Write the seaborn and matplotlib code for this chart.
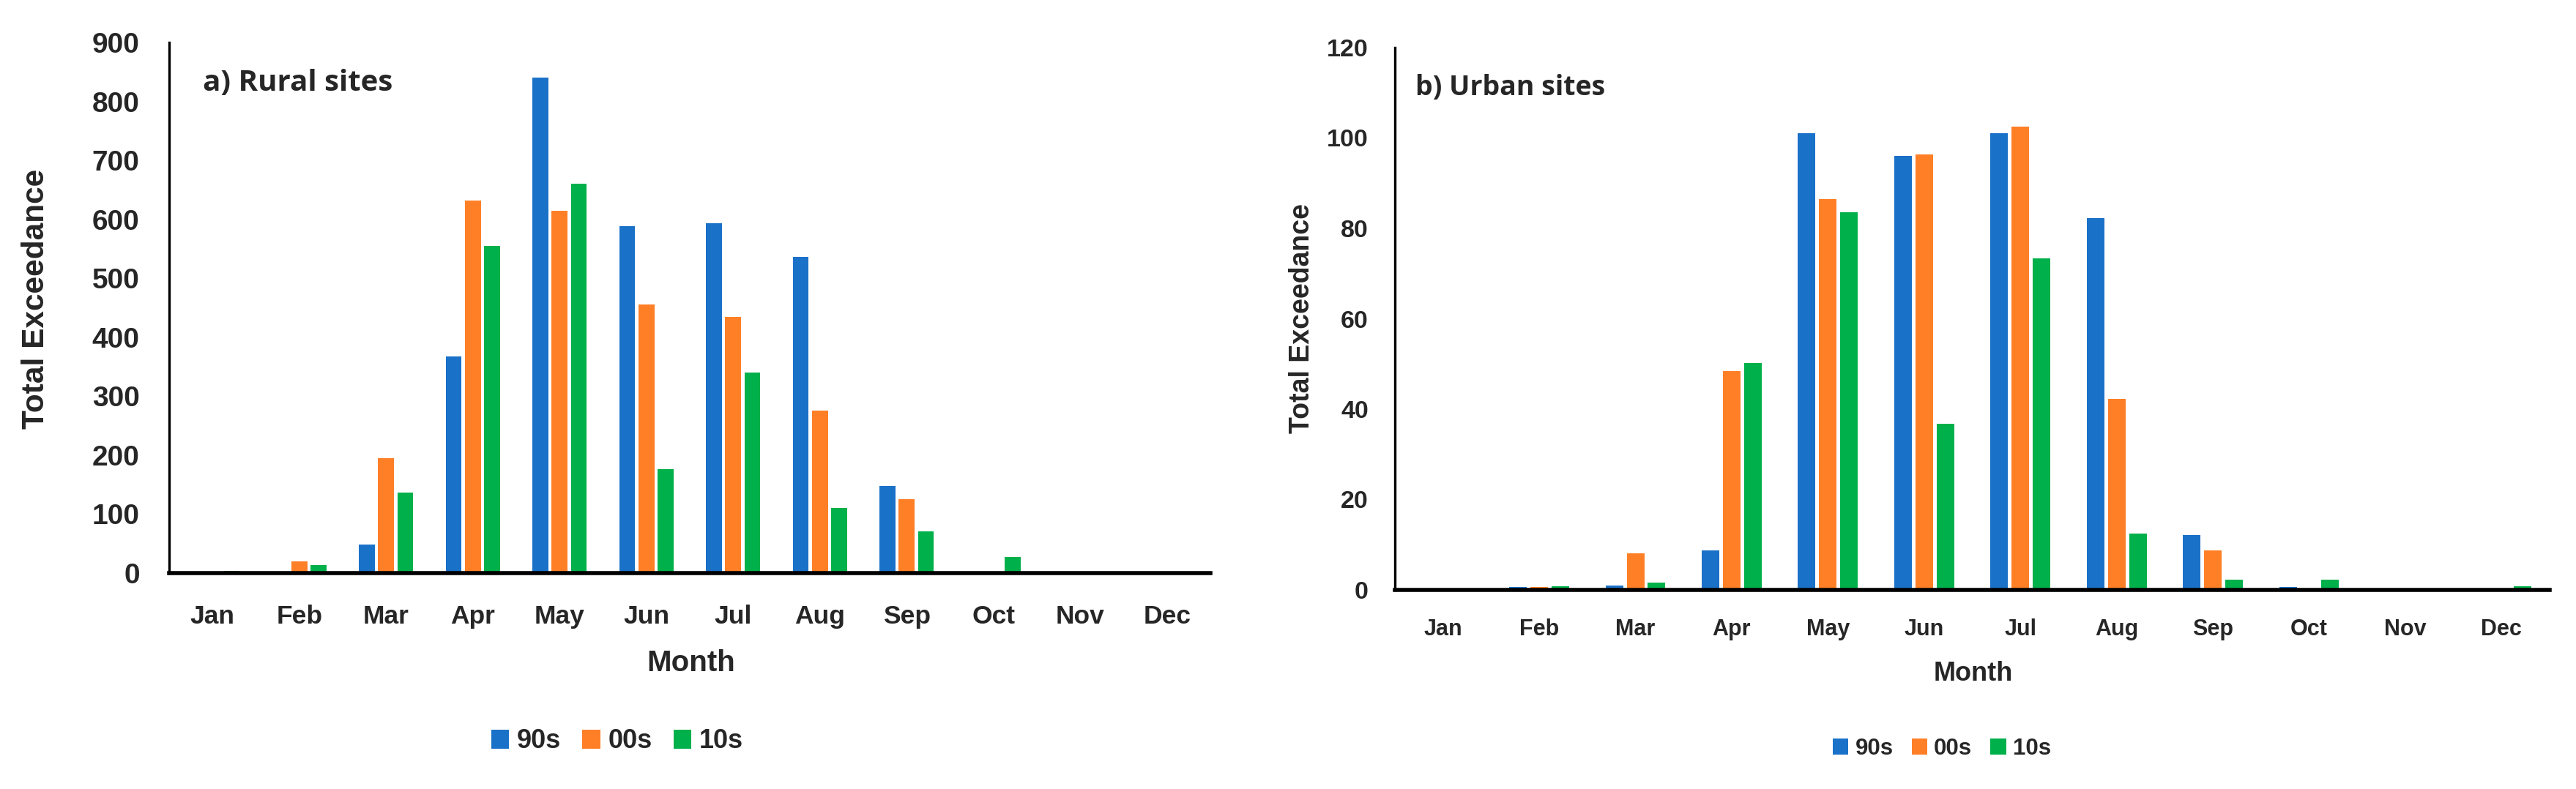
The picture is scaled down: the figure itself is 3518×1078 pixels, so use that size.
import matplotlib
matplotlib.use("Agg")
import matplotlib.pyplot as plt
import seaborn as sns
import pandas as pd

months = ["Jan", "Feb", "Mar", "Apr", "May", "Jun", "Jul", "Aug", "Sep", "Oct", "Nov", "Dec"]
decades = ["90s", "00s", "10s"]

rural_90s = [0, 0, 48, 368, 840, 588, 593, 536, 148, 0, 0, 0]
rural_00s = [0, 20, 195, 632, 615, 456, 434, 276, 125, 0, 0, 0]
rural_10s = [4, 14, 136, 555, 661, 176, 340, 110, 71, 27, 3, 3]

urban_90s = [0, 0.7, 1.0, 8.7, 101, 96, 101, 82.2, 12.2, 0.7, 0, 0]
urban_00s = [0, 0.7, 8.1, 48.4, 86.5, 96.4, 102.5, 42.2, 8.7, 0, 0, 0]
urban_10s = [0, 0.8, 1.7, 50.2, 83.6, 36.7, 73.4, 12.5, 2.3, 2.3, 0, 0.8]

colors = ["#1A71C8", "#FF7F27", "#00B04A"]

def long_df(a, b, c):
    rows = []
    for dec, vals in zip(decades, [a, b, c]):
        for m, v in zip(months, vals):
            rows.append({"Month": m, "Decade": dec, "Value": v})
    return pd.DataFrame(rows)

sns.set_style("white")
WIDE = ["Liberation Sans", "DejaVu Sans"]
TITLEF = ["Open Sans", "DejaVu Sans"]
plt.rcParams["font.family"] = WIDE

W, H = 3518, 1078
fig = plt.figure(figsize=(W / 100, H / 100), dpi=100)

ax1 = fig.add_axes([231 / W, 1 - 783 / H, (1653 - 231) / W, (783 - 58) / H])
ax2 = fig.add_axes([1905 / W, 1 - 806 / H, (3482 - 1905) / W, (806 - 65) / H])

panels = [
    dict(ax=ax1, df=long_df(rural_90s, rural_00s, rural_10s), ymax=900, ystep=100,
         title="a) Rural sites", ytfs=28, xtfs=25.5, mfs=29, tfs=29, ylfs=30.5,
         ypad=29, xpad=31, ylx=-0.114, yly=0.517, mly=-0.143, tx=0.0327, ty=0.909,
         lx=843 / W, ly=1 - 1013 / H, lfs=26),
    dict(ax=ax2, df=long_df(urban_90s, urban_00s, urban_10s), ymax=120, ystep=20,
         title="b) Urban sites", ytfs=24.5, xtfs=22, mfs=26, tfs=27, ylfs=27,
         ypad=26, xpad=28, ylx=-0.069, yly=0.5, mly=-0.131, tx=0.0177, ty=0.912,
         lx=2652 / W, ly=1 - 1023 / H, lfs=22.5),
]

for p in panels:
    ax = p["ax"]
    sns.barplot(data=p["df"], x="Month", y="Value", hue="Decade", order=months,
                hue_order=decades, palette=colors, saturation=1, width=0.66, gap=0.17,
                linewidth=0, ax=ax, legend=True)
    h, l = ax.get_legend_handles_labels()
    ax.get_legend().remove()
    ax.set_xlim(-0.5, 11.5)
    ax.set_ylim(0, p["ymax"])
    ax.set_yticks(list(range(0, p["ymax"] + 1, p["ystep"])))
    ax.tick_params(axis="y", length=0, pad=p["ypad"], labelsize=p["ytfs"])
    ax.tick_params(axis="x", length=0, pad=p["xpad"], labelsize=p["xtfs"])
    for lab in ax.get_xticklabels() + ax.get_yticklabels():
        lab.set_fontweight("bold")
        lab.set_family(WIDE)
    ax.set_xlabel("Month", fontsize=p["mfs"], fontweight="bold", family=WIDE)
    ax.xaxis.set_label_coords(0.501, p["mly"])
    ax.set_ylabel("Total Exceedance", fontsize=p["ylfs"], fontweight="bold", family=WIDE)
    ax.yaxis.set_label_coords(p["ylx"], p["yly"])
    ax.text(p["tx"], p["ty"], p["title"], transform=ax.transAxes, fontsize=p["tfs"],
            fontweight="bold", family=TITLEF, ha="left", va="baseline")
    for s in ["top", "right"]:
        ax.spines[s].set_visible(False)
    ax.spines["left"].set_linewidth(2.4)
    ax.spines["bottom"].set_linewidth(4.0)
    ax.spines["left"].set_color("black")
    ax.spines["bottom"].set_color("black")

    fig.legend(h, l, loc="center", bbox_to_anchor=(p["lx"], p["ly"]), ncol=3,
               frameon=False, handlelength=0.68, handleheight=0.7, handletextpad=0.3,
               columnspacing=0.8, borderpad=0,
               prop={"family": WIDE, "weight": "bold", "size": p["lfs"]})

fig.savefig("out.png", dpi=100)
